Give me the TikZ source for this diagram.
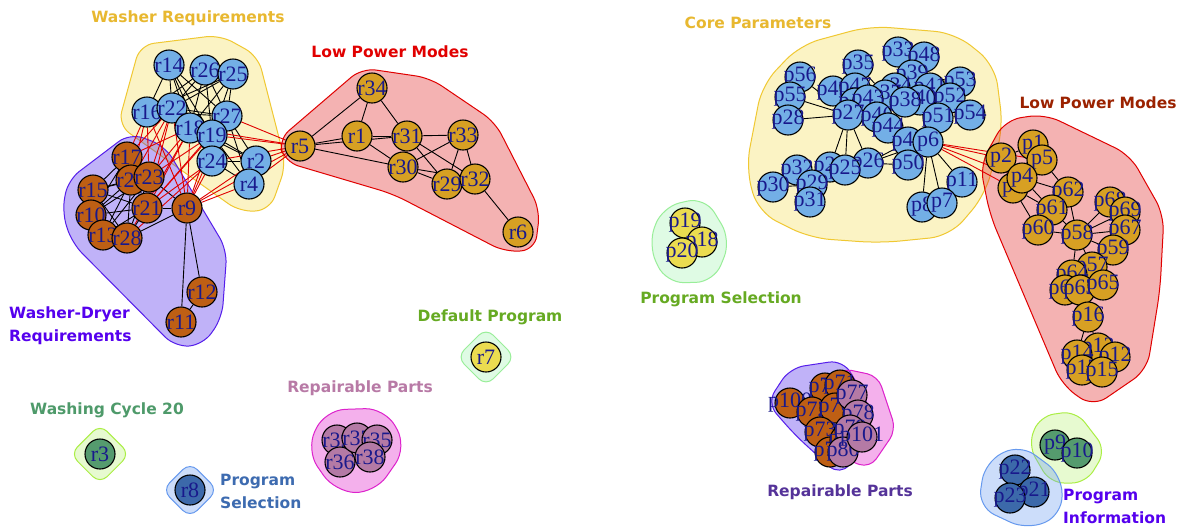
\documentclass[tikz,border=0pt]{standalone}
\usepackage{fontspec}
\usepackage{xcolor}
\usetikzlibrary{backgrounds}
\setmainfont{Liberation Serif}
\newfontfamily\grpfamily{DejaVu Sans}
\newcommand{\vlabel}{\fontsize{22}{22}\selectfont}
\newcommand{\grpfont}{\grpfamily\bfseries\fontsize{15.5}{23}\selectfont}

% vertex colours
\definecolor{vtext}{RGB}{25, 25, 140}
\definecolor{reqblue}{RGB}{115, 175, 230}
\definecolor{powergold}{RGB}{215, 160, 35}
\definecolor{dryerbrown}{RGB}{190, 95, 20}
\definecolor{cyclegreen}{RGB}{85, 155, 110}
\definecolor{progblue}{RGB}{60, 105, 170}
\definecolor{defyellow}{RGB}{235, 220, 80}
\definecolor{partmauve}{RGB}{180, 122, 165}
% group colours (hull fill base / hull border)
\definecolor{hullyellow}{RGB}{246, 223, 86}
\definecolor{lineyellow}{RGB}{240, 200, 50}
\definecolor{hullred}{RGB}{224, 35, 35}
\definecolor{linered}{RGB}{224, 0, 0}
\definecolor{hullviolet}{RGB}{75, 35, 235}
\definecolor{lineviolet}{RGB}{85, 30, 235}
\definecolor{hulllime}{RGB}{189, 241, 121}
\definecolor{linelime}{RGB}{170, 238, 68}
\definecolor{hullsky}{RGB}{109, 158, 241}
\definecolor{linesky}{RGB}{102, 153, 238}
\definecolor{hullmint}{RGB}{166, 246, 178}
\definecolor{linemint}{RGB}{153, 238, 153}
\definecolor{hullpink}{RGB}{224, 29, 201}
\definecolor{linepink}{RGB}{221, 34, 204}
% group label colours
\definecolor{txtgold}{RGB}{232, 184, 48}
\definecolor{txtred}{RGB}{225, 0, 0}
\definecolor{txtviolet}{RGB}{85, 0, 238}
\definecolor{txtgreen}{RGB}{102, 170, 34}
\definecolor{txtsea}{RGB}{78, 154, 106}
\definecolor{txtsteel}{RGB}{61, 107, 176}
\definecolor{txtmauve}{RGB}{184, 122, 166}
\definecolor{txtbrick}{RGB}{155, 34, 0}
\definecolor{txtpurple}{RGB}{85, 51, 153}

\begin{document}
\begin{tikzpicture}[
    x=1pt, y=-1pt,
    vertex/.style={circle, draw=black, line width=1.1pt, minimum size=30pt, inner sep=0pt, font=\vlabel, text=vtext,
        execute at begin node={\hbox to 0pt\bgroup\hss}, execute at end node={\hss\egroup}},
    req/.style={vertex, fill=reqblue},
    power/.style={vertex, fill=powergold},
    dryer/.style={vertex, fill=dryerbrown},
    cycle/.style={vertex, fill=cyclegreen},
    prog/.style={vertex, fill=progblue},
    deflt/.style={vertex, fill=defyellow},
    part/.style={vertex, fill=partmauve},
    hull/.style={rounded corners=14pt, line width=1pt, fill opacity=0.35},
    edge/.style={black, line width=0.9pt},
    crossedge/.style={linered, line width=0.9pt},
    grouplabel/.style={font=\grpfont, align=left, inner sep=0pt}
]

% Background
\useasboundingbox (0,0) rectangle (1190,528);

% Group hulls
\begin{scope}[on background layer]
\fill[white] (0,0) rectangle (1190,528);
\draw[hull, fill=hullyellow, draw=lineyellow] (118,125) -- (140,45) -- (220,35) -- (258,56) -- (286,165) -- (270,210) -- (240,212) -- cycle;
\draw[hull, fill=hullviolet, draw=lineviolet] (130,133) -- (68,180) -- (62,212) -- (72,243) -- (175,347) -- (203,345) -- (222,318) -- (227,250) -- (165,146) -- cycle;
\draw[hull, fill=hullred, draw=linered] (278,140) -- (362,68) -- (430,78) -- (495,122) -- (540,210) -- (535,250) -- (505,252) -- (393,194) -- (285,162) -- cycle;
\draw[hull, rounded corners=10pt, fill=hullmint, draw=linemint, rotate around={45:(486,357)}] (465.5,336.5) rectangle (506.5,377.5);
\draw[hull, rounded corners=10pt, fill=hulllime, draw=linelime, rotate around={45:(100,454)}] (79,433) rectangle (121,475);
\draw[hull, rounded corners=10pt, fill=hullsky, draw=linesky, rotate around={45:(190,490)}] (170.5,470.5) rectangle (209.5,509.5);
\draw[hull, rounded corners=20pt, fill=hullpink, draw=linepink] (325,410) -- (385,408) -- (407,447) -- (375,493) -- (335,492) -- (306,450) -- cycle;
% right half
\draw[hull, rounded corners=20pt, fill=hullyellow, draw=lineyellow] (746,168) -- (762,85) -- (800,45) -- (870,26) -- (955,33) -- (995,65) -- (1003,128) -- (985,195) -- (950,236) -- (880,243) -- (810,238) -- (758,212) -- cycle;
\draw[hull, rounded corners=16pt, fill=hullred, draw=linered] (980,165) -- (1005,120) -- (1045,114) -- (1130,155) -- (1164,215) -- (1160,290) -- (1147,370) -- (1093,407) -- (1062,385) -- (990,215) -- cycle;
\draw[hull, rounded corners=18pt, fill=hullmint, draw=linemint] (662,207) -- (705,197) -- (731,240) -- (714,282) -- (666,283) -- (648,245) -- cycle;
\draw[hull, fill=hullviolet, draw=lineviolet] (767,403) -- (790,368) -- (843,360) -- (870,405) -- (860,452) -- (840,476) -- (795,435) -- cycle;
\draw[hull, rounded corners=11pt, fill=hullpink, draw=linepink] (840,368) -- (878,376) -- (896,430) -- (870,468) -- (846,460) -- (836,410) -- cycle;
\draw[hull, fill=hulllime, draw=linelime] (1040,416) -- (1076,411) -- (1106,450) -- (1086,483) -- (1050,483) -- (1028,445) -- cycle;
\draw[hull, rounded corners=18pt, fill=hullsky, draw=linesky] (985,462) -- (1020,444) -- (1062,475) -- (1062,515) -- (1027,530) -- (978,507) -- cycle;
\end{scope}

% Group labels
\node[grouplabel, text=txtgold] (lwash) at (188,18) {Washer Requirements};
\node[grouplabel, text=txtred] (llowl) at (390,52) {Low Power Modes};
\node[grouplabel, text=txtviolet, anchor=west] (ldryer) at (9,326) {Washer-Dryer\\Requirements};
\node[grouplabel, text=txtgreen] (ldef) at (490,317) {Default Program};
\node[grouplabel, text=txtsea] (lcycle) at (107,410) {Washing Cycle 20};
\node[grouplabel, text=txtsteel, anchor=west] (lprogl) at (220,491) {Program\\Selection};
\node[grouplabel, text=txtmauve] (lpartl) at (360,388) {Repairable Parts};
\node[grouplabel, text=txtgold] (lcore) at (758,23) {Core Parameters};
\node[grouplabel, text=txtbrick] (llowr) at (1098,103) {Low Power Modes};
\node[grouplabel, text=txtgreen] (lprogr) at (721,299) {Program Selection};
\node[grouplabel, text=txtpurple] (lpartr) at (840,492) {Repairable Parts};
\node[grouplabel, text=txtviolet, anchor=west] (linfo) at (1063,506) {Program\\Information};

% Washer requirements
\node[req] (r14) at (169,65) {r14};
\node[req] (r26) at (205,70) {r26};
\node[req] (r25) at (233,74) {r25};
\node[req] (r16) at (147,112) {r16};
\node[req] (r22) at (172,108) {r22};
\node[req] (r27) at (227,116) {r27};
\node[req] (r18) at (190,128) {r18};
\node[req] (r19) at (212,135) {r19};
\node[req] (r24) at (212,161) {r24};
\node[req] (r2) at (256,161) {r2};
\node[req] (r4) at (249,184) {r4};

% Low power modes (left)
\node[power] (r5) at (300,146) {r5};
\node[power] (r34) at (372,88) {r34};
\node[power] (r1) at (357,136) {r1};
\node[power] (r31) at (407,136) {r31};
\node[power] (r33) at (463,135) {r33};
\node[power] (r30) at (403,167) {r30};
\node[power] (r29) at (447,184) {r29};
\node[power] (r32) at (475,179) {r32};
\node[power] (r6) at (518,232) {r6};

% Washer-dryer requirements
\node[dryer] (r17) at (127,157) {r17};
\node[dryer] (r15) at (93,190) {r15};
\node[dryer] (r10) at (91,215) {r10};
\node[dryer] (r13) at (103,235) {r13};
\node[dryer] (r28) at (127,238) {r28};
\node[dryer] (r21) at (147,208) {r21};
\node[dryer] (r20) at (131,180) {r20};
\node[dryer] (r23) at (149,177) {r23};
\node[dryer] (r9) at (187,208) {r9};
\node[dryer] (r12) at (202,292) {r12};
\node[dryer] (r11) at (181,322) {r11};

% Single groups (left)
\node[deflt] (r7) at (486,357) {r7};
\node[cycle] (r3) at (100,454) {r3};
\node[prog] (r8) at (190,490) {r8};
\node[part] (r39) at (337,440) {r39};
\node[part] (r36) at (340,462) {r36};
\node[part] (r37) at (357,438) {r37};
\node[part] (r35) at (377,440) {r35};
\node[part] (r38) at (370,457) {r38};

% Core parameters
\node[req] (p56) at (800,77) {p56};
\node[req] (p55) at (790,97) {p55};
\node[req] (p28) at (788,120) {p28};
\node[req] (p35) at (858,65) {p35};
\node[req] (p49) at (833,91) {p49};
\node[req] (p47) at (855,88) {p47};
\node[req] (p33) at (898,52) {p33};
\node[req] (p48) at (924,57) {p48};
\node[req] (p39) at (912,75) {p39};
\node[req] (p53) at (960,82) {p53};
\node[req] (p34) at (895,88) {p34};
\node[req] (p37) at (885,95) {p37};
\node[req] (p41) at (930,88) {p41};
\node[req] (p40) at (920,100) {p40};
\node[req] (p38) at (905,102) {p38};
\node[req] (p52) at (950,98) {p52};
\node[req] (p45) at (855,103) {p45};
\node[req] (p43) at (868,100) {p43};
\node[req] (p27) at (848,115) {p27};
\node[req] (p46) at (877,117) {p46};
\node[req] (p44) at (888,128) {p44};
\node[req] (p54) at (970,115) {p54};
\node[req] (p51) at (938,118) {p51};
\node[req] (p42) at (908,142) {p42};
\node[req] (p6) at (928,142) {p6};
\node[req] (p50) at (908,165) {p50};
\node[req] (p26) at (868,163) {p26};
\node[req] (p24) at (830,167) {p24};
\node[req] (p25) at (845,170) {p25};
\node[req] (p32) at (797,170) {p32};
\node[req] (p30) at (773,187) {p30};
\node[req] (p29) at (812,185) {p29};
\node[req] (p31) at (810,202) {p31};
\node[req] (p11) at (962,182) {p11};
\node[req] (p8) at (922,207) {p8};
\node[req] (p7) at (942,203) {p7};

% Low power modes (right)
\node[power] (p1) at (1033,145) {p1};
\node[power] (p2) at (1001,158) {p2};
\node[power] (p5) at (1042,160) {p5};
\node[power] (p3) at (1013,188) {p3};
\node[power] (p4) at (1022,178) {p4};
\node[power] (p62) at (1068,192) {p62};
\node[power] (p61) at (1052,210) {p61};
\node[power] (p60) at (1038,230) {p60};
\node[power] (p58) at (1077,235) {p58};
\node[power] (p68) at (1110,202) {p68};
\node[power] (p69) at (1125,212) {p69};
\node[power] (p67) at (1125,230) {p67};
\node[power] (p59) at (1113,250) {p59};
\node[power] (p57) at (1092,267) {p57};
\node[power] (p64) at (1072,275) {p64};
\node[power] (p66) at (1065,290) {p66};
\node[power] (p63) at (1080,290) {p63};
\node[power] (p65) at (1103,285) {p65};
\node[power] (p16) at (1088,317) {p16};
\node[power] (p13) at (1098,348) {p13};
\node[power] (p12) at (1115,357) {p12};
\node[power] (p14) at (1077,355) {p14};
\node[power] (p17) at (1082,370) {p17};
\node[power] (p15) at (1102,372) {p15};

% Program selection / information (right)
\node[deflt] (p19) at (685,223) {p19};
\node[deflt] (p18) at (702,242) {p18};
\node[deflt] (p20) at (682,253) {p20};
\node[cycle] (p9) at (1055,445) {p9};
\node[cycle] (p10) at (1077,453) {p10};
\node[prog] (p22) at (1015,470) {p22};
\node[prog] (p21) at (1034,492) {p21};
\node[prog] (p23) at (1010,498) {p23};

% Repairable parts (right)
\node[dryer] (p100) at (790,403) {p100};
\node[dryer] (p70) at (825,388) {p70};
\node[dryer] (p71) at (840,385) {p71};
\node[dryer] (p72) at (812,412) {p72};
\node[dryer] (p76) at (835,408) {p76};
\node[dryer] (p73) at (820,432) {p73};
\node[dryer] (p74) at (830,452) {p74};
\node[dryer] (p75) at (845,440) {p75};
\node[part] (p77) at (852,395) {p77};
\node[part] (p78) at (858,415) {p78};
\node[part] (p79) at (850,430) {p79};
\node[part] (p80) at (843,452) {p80};
\node[part] (p101) at (862,437) {p101};

% Connections
\begin{scope}[on background layer]
\foreach \a/\b in {r14/r16, r14/r22, r14/r18, r14/r19, r14/r27, r14/r24, r26/r16, r26/r22, r26/r18,
    r26/r27, r26/r19, r25/r22, r25/r18, r25/r27, r25/r19, r25/r16, r16/r22, r16/r18, r16/r27,
    r22/r18, r22/r27, r22/r19, r18/r19, r18/r27, r18/r24, r18/r2, r27/r19, r27/r24, r27/r2,
    r27/r4, r19/r24, r19/r2, r19/r4, r24/r2, r24/r4, r2/r4}
  \draw[edge] (\a) -- (\b);
\foreach \a/\b in {r17/r20, r17/r23, r17/r15, r17/r21, r17/r10, r20/r23, r20/r15, r20/r10, r20/r13,
    r20/r21, r20/r28, r23/r21, r23/r15, r23/r10, r23/r13, r23/r28, r15/r10, r15/r13, r15/r21,
    r15/r28, r10/r13, r10/r21, r10/r28, r13/r28, r13/r21, r28/r21, r21/r9, r28/r9, r23/r9,
    r9/r12, r9/r11, r11/r12}
  \draw[edge] (\a) -- (\b);
\foreach \a/\b in {r5/r34, r5/r1, r5/r31, r5/r30, r34/r1, r34/r31, r1/r31, r1/r30, r31/r30,
    r31/r33, r31/r29, r31/r32, r30/r33, r30/r29, r30/r32, r33/r29, r33/r32, r29/r32, r32/r6,
    r39/r37, r37/r35, r36/r38, r39/r36, r35/r38, r37/r38}
  \draw[edge] (\a) -- (\b);
\foreach \a/\b in {r17/r16, r17/r22, r17/r18, r20/r16, r20/r22, r23/r18, r23/r22, r23/r19,
    r23/r16, r21/r18, r21/r19, r21/r24, r21/r22, r21/r27, r28/r18, r28/r24, r9/r18, r9/r19,
    r9/r24, r9/r2, r9/r4, r9/r27, r9/r16, r9/r22, r5/r27, r5/r19, r5/r24, r5/r2, r5/r4,
    r5/r9, r5/r18}
  \draw[crossedge] (\a) -- (\b);
\foreach \a/\b in {p56/p27, p55/p27, p28/p27, p49/p27, p47/p27, p35/p43, p35/p37, p45/p27,
    p43/p46, p46/p44, p27/p44, p27/p24, p27/p25, p27/p26, p24/p29, p25/p29, p32/p29, p30/p29,
    p31/p29, p26/p42, p26/p50, p26/p6, p42/p6, p6/p50, p6/p8, p6/p7, p6/p11, p6/p51, p33/p48,
    p33/p39, p48/p39, p39/p53, p53/p52, p52/p54, p51/p54, p41/p51, p38/p51, p37/p38, p34/p37,
    p40/p6, p44/p42}
  \draw[edge] (\a) -- (\b);
\foreach \a/\b in {p1/p2, p1/p5, p1/p4, p2/p4, p2/p3, p5/p4, p5/p3, p4/p3, p3/p61, p3/p60,
    p4/p62, p4/p61, p5/p62, p62/p61, p62/p58, p61/p60, p61/p58, p60/p58, p58/p68, p58/p69,
    p58/p67, p58/p59, p58/p57, p58/p64, p68/p69, p67/p59, p69/p67, p57/p64, p57/p65, p64/p66,
    p63/p65, p66/p16, p63/p16, p16/p13, p16/p14, p13/p12, p14/p17, p17/p15, p13/p15, p12/p15,
    p19/p18, p20/p18, p19/p20, p9/p10, p22/p21, p22/p23, p23/p21,
    p100/p72, p70/p71, p72/p76, p73/p74, p75/p79, p77/p78, p78/p101, p80/p101}
  \draw[edge] (\a) -- (\b);
\foreach \a/\b in {p6/p2, p6/p3, p6/p4, p6/p5}
  \draw[crossedge] (\a) -- (\b);
\end{scope}

\end{tikzpicture}
\end{document}
